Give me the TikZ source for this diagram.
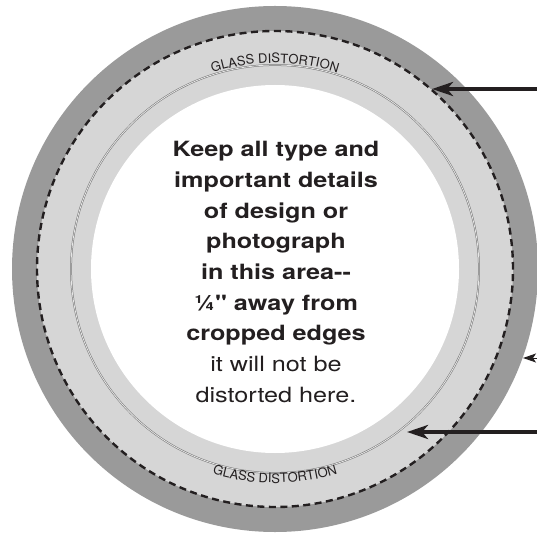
\documentclass[tikz,border=0pt]{standalone}
\usepackage{fontspec}
\setmainfont{TeX Gyre Heros}[Ligatures=TeXOff]
\usetikzlibrary{arrows.meta,decorations.text}
\definecolor{rimgray}{HTML}{9A9A9A}
\definecolor{glassgray}{HTML}{D6D6D6}
\definecolor{inkblack}{HTML}{231F20}

\begin{document}
\begin{tikzpicture}[x=1pt, y=1pt,
    pointer/.style={draw=inkblack, line width=4pt, -{Stealth[length=21pt, width=14pt, inset=6pt]}},
    glasslabel/.style={decorate, decoration={text along path, text align=center, text color=inkblack,
        text={|\fontsize{13}{14}\selectfont|GLASS DISTORTION}}}]
    \useasboundingbox (0,0) rectangle (537,533);
    \clip (0,0) rectangle (537,533);

    % Centro y puntas de flecha
    \coordinate (C) at (275,264);
    \coordinate (rimTip) at (432,444);
    \coordinate (rimTail) at (540,444);
    \coordinate (edgeTip) at (523,175);
    \coordinate (edgeTail) at (540,175);
    \coordinate (lineTip) at (407,101);
    \coordinate (lineTail) at (540,101);

    % Aros del cristal
    \fill[rimgray] (C) circle (263);
    \fill[glassgray] (C) circle (238);
    \fill[white] (C) circle (184);

    % Borde de corte (discontinuo) y linea fina doble
    \draw[inkblack, line width=2.4pt, dash pattern=on 7pt off 4.5pt] (C) circle (238);
    \draw[black!55, line width=0.5pt, double=glassgray!60, double distance=0.8pt] (C) circle (204);

    % Etiquetas curvas
    \path[glasslabel] ([shift={(115:206)}]C) arc[start angle=115, end angle=65, radius=206];
    \path[glasslabel] ([shift={(245:214)}]C) arc[start angle=245, end angle=295, radius=214];

    % Texto central (un poco ensanchado)
    \begin{scope}[shift={(276,261)}, xscale=1.2, transform shape]
        \node[align=center, font=\bfseries\fontsize{21}{30.7}\selectfont, text=inkblack] (safeArea) at (0,0)
            {Keep all type and\\important details\\of design or\\photograph\\in this area--\\%
             ¼" away from\\cropped edges\\{\mdseries it will not be}\\{\mdseries distorted here.}};
    \end{scope}

    % Flechas
    \draw[pointer] (rimTail) -- (rimTip);
    \draw[inkblack, line width=1pt, -{Stealth[length=13pt, width=9pt, inset=3pt]}] (edgeTail) -- (edgeTip);
    \draw[pointer] (lineTail) -- (lineTip);
\end{tikzpicture}
\end{document}
